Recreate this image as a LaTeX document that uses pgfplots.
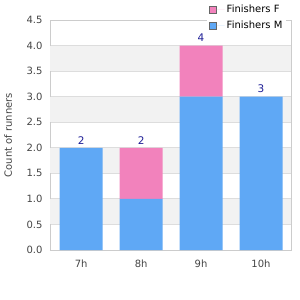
\documentclass[border=0pt]{standalone}
\usepackage{fontspec}
\setmainfont{DejaVu Sans}
\usepackage{pgfplots}
\pgfplotsset{compat=1.18}
\definecolor{mblue}{RGB}{95,168,245}
\definecolor{fpink}{RGB}{242,130,188}
\definecolor{band}{RGB}{242,242,242}
\definecolor{gridc}{RGB}{221,221,221}
\definecolor{axc}{RGB}{204,204,204}
\definecolor{txt}{RGB}{68,68,68}
\definecolor{lbl}{RGB}{30,30,150}
\pgfplotsset{
  common/.style={
    scale only axis, width=241pt, height=230pt,
    ymin=0, ymax=4.5, xmin=-0.52, xmax=3.5,
    enlargelimits=false,
    at={(0pt,0pt)}, anchor=south west,
  },
}
\begin{document}
\begin{tikzpicture}[font=\fontsize{10}{12}\selectfont]
% background: bands, grid, ticks, axis lines
\begin{axis}[
  common,
  xtick={0,1,2,3}, xticklabels={7h,8h,9h,10h},
  ytick={0,0.5,1,1.5,2,2.5,3,3.5,4,4.5},
  /pgf/number format/assume math mode=true,
  ymajorgrids, grid style={gridc, line width=0.8pt},
  axis line style={axc, line width=0.8pt},
  major tick length=0,
  tick label style={txt, font=\fontsize{10}{12}\selectfont},
  yticklabel style={xshift=-4pt, /pgf/number format/.cd, fixed, fixed zerofill, precision=1},
  xticklabel style={yshift=-6pt},
  ylabel={Count of runners},
  ylabel style={txt, at={(axis description cs:-0.174,0.5)}, anchor=center},
]
\fill[band] (axis cs:-0.52,0.5) rectangle (axis cs:3.5,1.0);
\fill[band] (axis cs:-0.52,1.5) rectangle (axis cs:3.5,2.0);
\fill[band] (axis cs:-0.52,2.5) rectangle (axis cs:3.5,3.0);
\fill[band] (axis cs:-0.52,3.5) rectangle (axis cs:3.5,4.0);
\end{axis}
% bars
\begin{axis}[
  common, hide axis,
  ybar stacked, bar width=43pt,
  legend style={at={(axis description cs:0.652,1.084)}, anchor=north west, draw=none, fill=white, font=\fontsize{10}{12}\selectfont, text=black, row sep=3pt, inner sep=2pt},
  legend cell align=left,
  reverse legend,
  legend image code/.code={\draw[#1, draw=gray!80!black, line width=0.8pt] (0pt,-3.5pt) rectangle (7pt,3.5pt); \path (0pt,0pt) -- (15pt,0pt);},
]
\addplot[fill=mblue, draw=none] coordinates {(0,2) (1,1) (2,3) (3,3)};
\addlegendentry{Finishers M}
\addplot[fill=fpink, draw=none] coordinates {(0,0) (1,1) (2,1) (3,0)};
\addlegendentry{Finishers F}
\end{axis}
% totals
\begin{axis}[common, hide axis]
\addplot[draw=none, mark=none, nodes near coords, point meta=explicit symbolic,
  nodes near coords style={lbl, anchor=south, inner sep=3.5pt, font=\fontsize{10.5}{12}\selectfont}]
  coordinates {(0,2) [2] (1,2) [2] (2,4) [4] (3,3) [3]};
\end{axis}
\pgfresetboundingbox
\path (-50pt,-50pt) rectangle (250pt,250pt);
\end{tikzpicture}
\end{document}
